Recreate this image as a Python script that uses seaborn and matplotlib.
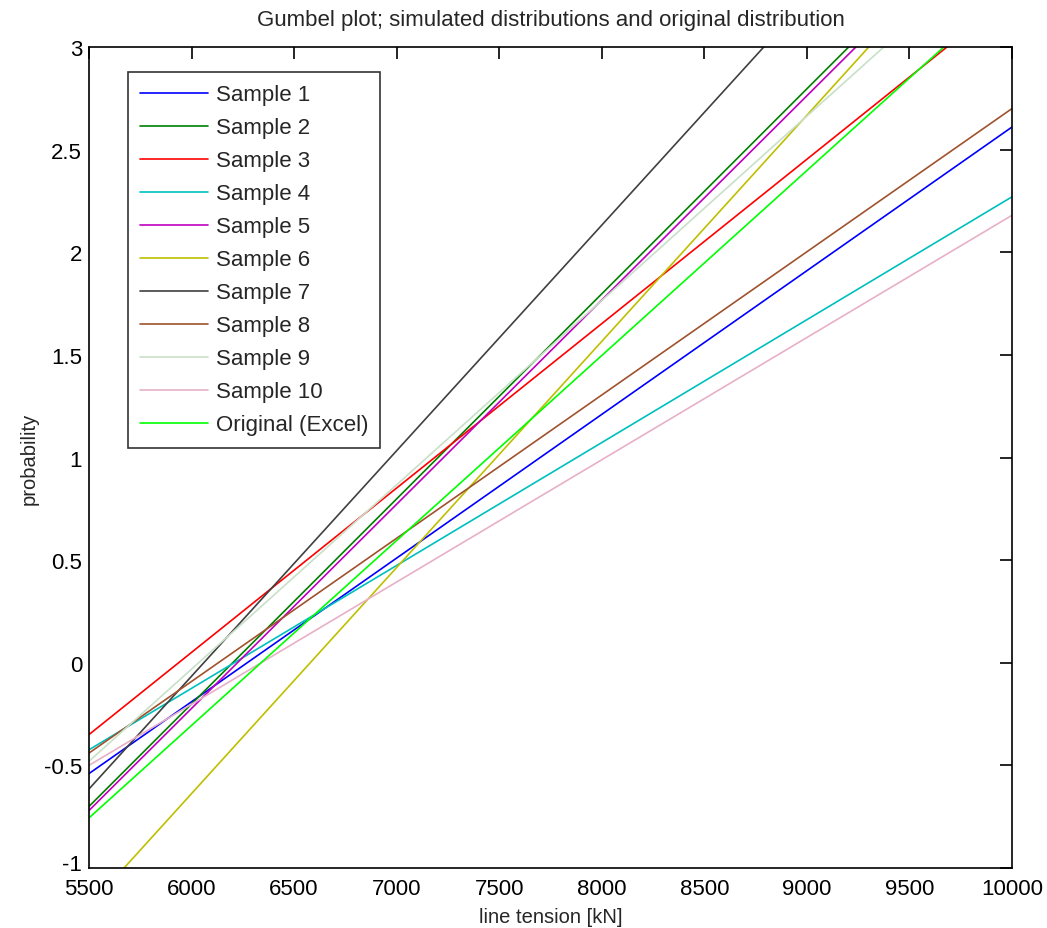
import pandas as pd
import seaborn as sns
import matplotlib.pyplot as plt
import matplotlib.transforms as mtransforms

# Series: each fitted Gumbel line as start/end points
series = ['Sample 1', 'Sample 2', 'Sample 3', 'Sample 4', 'Sample 5', 'Sample 6',
          'Sample 7', 'Sample 8', 'Sample 9', 'Sample 10', 'Original (Excel)']
x_start = [5500, 5500, 5500, 5500, 5500, 5671, 5500, 5500, 5500, 5500, 5500]
y_start = [-0.54, -0.70, -0.35, -0.424, -0.72, -1.0, -0.615, -0.44, -0.48, -0.50, -0.756]
x_end = [10000, 9204, 9683, 10000, 9239, 9302, 8790, 10000, 9375, 10000, 9668]
y_end = [2.61, 3.0, 3.0, 2.27, 3.0, 3.0, 3.0, 2.70, 3.0, 2.18, 3.0]

colors = ['#0000ff', '#008000', '#ff0000', '#00bfbf', '#bf00bf', '#bfbf00',
          '#404040', '#a0522d', '#c8e0c8', '#e8b0c8', '#00ff00']

rows = []
for name, x0, y0, x1, y1 in zip(series, x_start, y_start, x_end, y_end):
    rows.append({'series': name, 'tension': x0, 'prob': y0})
    rows.append({'series': name, 'tension': x1, 'prob': y1})
df = pd.DataFrame(rows)

sns.set_style('white')
plt.rcParams['font.family'] = ['Liberation Sans', 'DejaVu Sans']

fig = plt.figure(figsize=(10.47, 9.29), dpi=100)
ax = fig.add_axes([0.085, 0.0646, 0.8815, 0.8837])

sns.lineplot(data=df, x='tension', y='prob', hue='series', hue_order=series,
             palette=dict(zip(series, colors)), linewidth=1.2, ax=ax, sort=False)

ax.set_xlim(5500, 10000)
ax.set_ylim(-1, 3)
ax.set_xticks(range(5500, 10001, 500))
ax.set_yticks([-1, -0.5, 0, 0.5, 1, 1.5, 2, 2.5, 3])
ax.set_yticklabels(['-1', '-0.5', '0', '0.5', '1', '1.5', '2', '2.5', '3'])
ax.tick_params(direction='in', length=8.5, width=1.2, top=True, right=True,
               labelsize=16, pad=5, colors='black')
ax.tick_params(axis='x', pad=7)
for s in ax.spines.values():
    s.set_color('black')
    s.set_linewidth(1.2)

# nudge the bottom y label up a little so it clears "5500"
lab = ax.get_yticklabels()[0]
lab.set_transform(lab.get_transform() +
                  mtransforms.ScaledTranslation(0, 4 / 72, fig.dpi_scale_trans))

ax.set_title('Gumbel plot; simulated distributions and original distribution',
             fontsize=16, pad=16)
ax.set_xlabel('line tension [kN]', fontsize=14.5, labelpad=6)
ax.set_ylabel('probability', fontsize=14.5, labelpad=4)

leg = ax.legend(loc='upper left', bbox_to_anchor=(0.042, 0.9695), fontsize=16,
                frameon=True, fancybox=False, edgecolor='black', handlelength=3.05,
                labelspacing=0.54, borderpad=0.55, handletextpad=0.36,
                borderaxespad=0)
leg.get_frame().set_linewidth(1.2)

fig.savefig('out.png', dpi=100)
